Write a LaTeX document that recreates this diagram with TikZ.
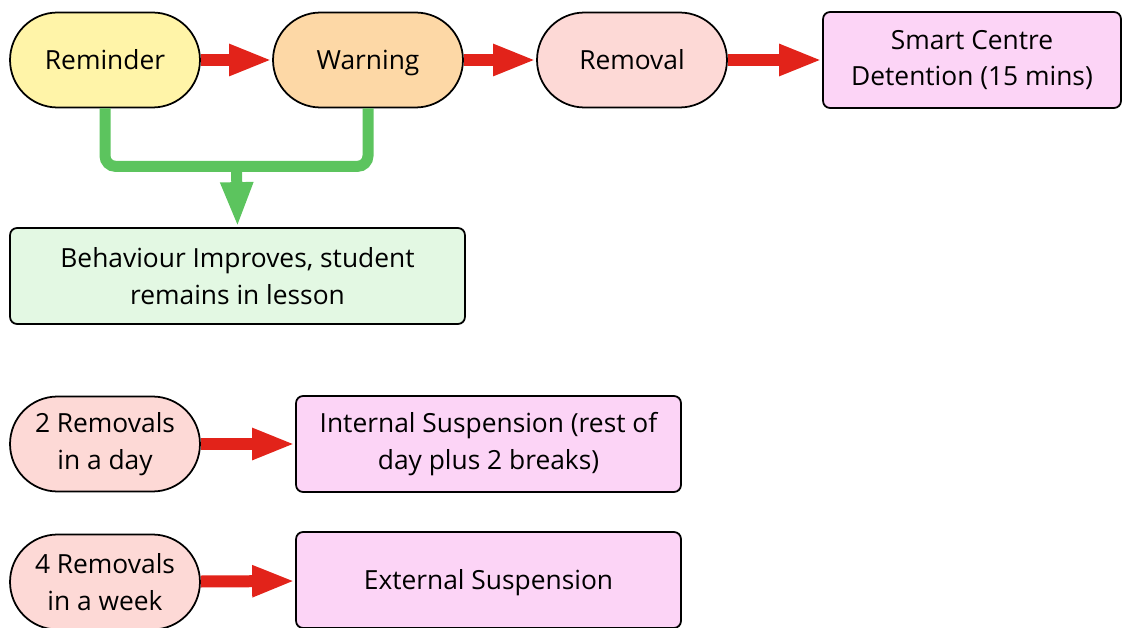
\documentclass[tikz,border=0pt]{standalone}
\usepackage{fontspec}
\setmainfont{Open Sans}
\usetikzlibrary{arrows.meta, positioning, calc}
\definecolor{stepYellow}{HTML}{FFF4A8}
\definecolor{stepOrange}{HTML}{FDD8A6}
\definecolor{stepPink}{HTML}{FDD9D6}
\definecolor{stepMagenta}{HTML}{FCD4F6}
\definecolor{stepGreen}{HTML}{E3F8E3}
\definecolor{arrowRed}{HTML}{E2231A}
\definecolor{arrowGreen}{HTML}{5CC45E}

\begin{document}
\begin{tikzpicture}[x=0.02cm, y=-0.02cm,
        pill/.style={rectangle, draw=black, line width=1pt, rounded corners=0.95cm, minimum width=3.8cm, minimum height=1.9cm, inner sep=0pt, align=center, font=\fontsize{15}{21}\selectfont},
        box/.style={rectangle, draw=black, line width=1pt, rounded corners=4pt, minimum height=1.92cm, inner sep=0pt, align=center, font=\fontsize{15}{21}\selectfont},
        oneline/.style={text height=12pt, text depth=1.5pt},
        arr/.style={-{Triangle[length=0.86cm, width=0.58cm]}, line width=0.24cm, arrowRed},
        gline/.style={line width=0.22cm, arrowGreen, rounded corners=6pt},
        garr/.style={-{Triangle[length=0.9cm, width=0.6cm]}, line width=0.22cm, arrowGreen}
      ]
        \useasboundingbox (0,0) rectangle (1129,628);
        % main sequence
        \node[pill, oneline, fill=stepYellow] (remind) at (105,60) {Reminder};
        \node[pill, oneline, fill=stepOrange] (warn) at (368,60) {Warning};
        \node[pill, oneline, fill=stepPink] (removal) at (632,60) {Removal};
        \node[box, fill=stepMagenta, minimum width=5.96cm] (smart) at (972,60) {Smart Centre\\Detention (15 mins)};
        \node[box, fill=stepGreen, minimum width=9.1cm] (behav) at (237.5,276) {Behaviour Improves, student\\remains in lesson};
        \draw[arr] (remind) -- (warn);
        \draw[arr] (warn) -- (removal);
        \draw[arr] (removal) -- (smart);
        \coordinate (join) at ($(remind.south)!0.5!(warn.south) + (0,58)$);
        \draw[gline] (remind.south) |- (join) -| (warn.south);
        \draw[garr] (join) -- (behav.north);
        % repeated removals
        \node[pill, fill=stepPink] (twoday) at (105,444) {2 Removals\\in a day};
        \node[box, fill=stepMagenta, minimum width=7.7cm] (internal) at (488.5,444) {Internal Suspension (rest of\\day plus 2 breaks)};
        \node[pill, fill=stepPink] (fourweek) at (105,582) {4 Removals\\in a week};
        \node[box, oneline, fill=stepMagenta, minimum width=7.7cm] (external) at (488.5,580) {External Suspension};
        \draw[arr] (twoday) -- (internal);
        \draw[arr] (fourweek) -- (external);
      \end{tikzpicture}
\end{document}
